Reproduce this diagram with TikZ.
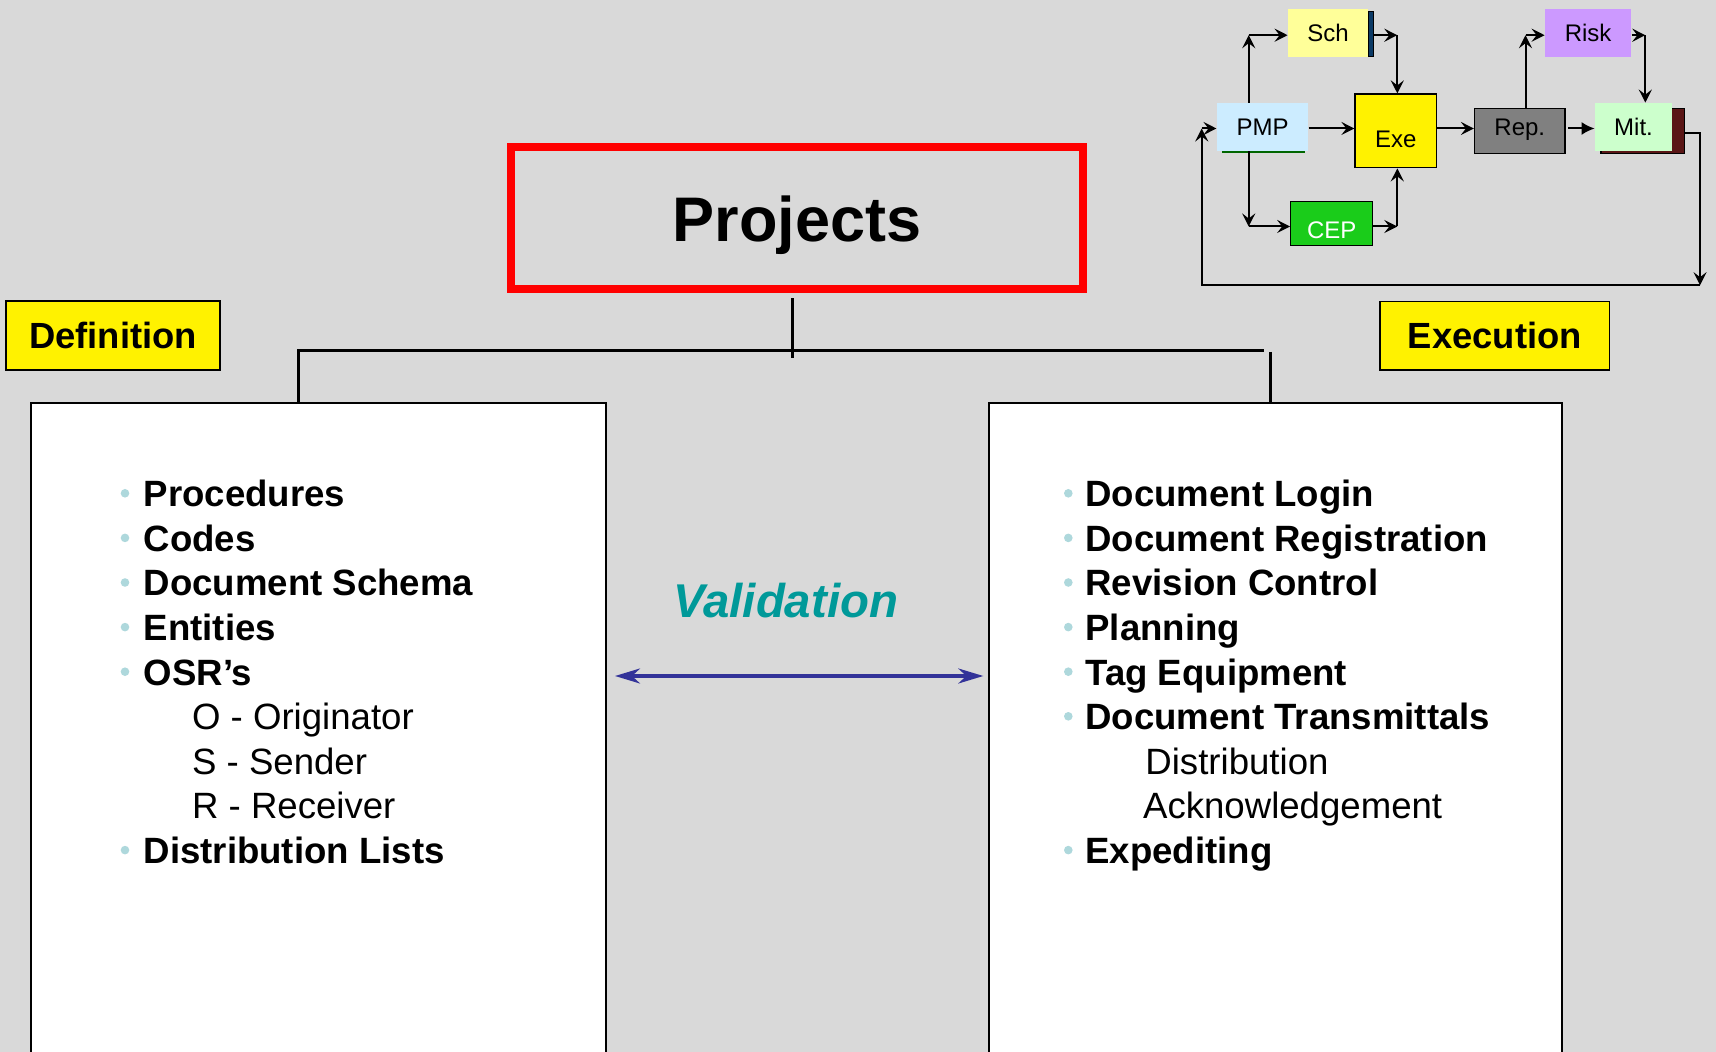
\documentclass[tikz,border=0pt]{standalone}
\usepackage{fontspec}
\setmainfont{Liberation Sans}
\usetikzlibrary{arrows.meta}
\definecolor{bg}{HTML}{D9D9D9}
\definecolor{bul}{HTML}{AED8DC}
\definecolor{teal2}{HTML}{009999}
\definecolor{navy2}{HTML}{333399}
\definecolor{schc}{HTML}{FFFF99}
\definecolor{pmpc}{HTML}{CCECFF}
\definecolor{cepc}{HTML}{1ACC1A}
\definecolor{repc}{HTML}{808080}
\definecolor{riskc}{HTML}{CC99FF}
\definecolor{mitc}{HTML}{CCFFCC}
\definecolor{maroon2}{HTML}{5A1616}
\definecolor{barblue}{HTML}{0B3A66}
\definecolor{darkgreen2}{HTML}{006600}
\begin{document}
\begin{tikzpicture}[x=0.5pt,y=-0.5pt,
  tree/.style={line width=1.5pt},
  tagbox/.style={draw=black,line width=0.8pt,fill=yellow,inner sep=0pt,
    font=\fontsize{18.2}{22}\selectfont\bfseries,text height=13.0pt,text depth=0pt},
  mainitem/.style={anchor=base west,inner sep=0pt,font=\fontsize{18.3}{22}\selectfont\bfseries},
  subitem/.style={anchor=base west,inner sep=0pt,font=\fontsize{18.3}{22}\selectfont},
  bulletdot/.style={fill=bul},
  small/.style={inner sep=0pt,font=\fontsize{12}{14}\selectfont,text height=8.6pt,text depth=0pt},
  arr/.style={line width=1pt,-{Stealth[length=6.5pt,width=6.5pt,inset=2.5pt]}},
  seg/.style={line width=1pt}
]
\useasboundingbox (0,0) rectangle (1716,1052);
\clip (0,0) rectangle (1716,1052);
\fill[bg] (0,0) rectangle (1716,1052);

% ---------- Projects ----------
\node[draw=red,line width=4pt,minimum width=286pt,minimum height=71pt,inner sep=0pt,
  font=\fontsize{31.5}{38}\selectfont\bfseries,text height=22.55pt,text depth=0pt]
  (proj) at (797,218.5) {Projects};

% ---------- tags ----------
\node[tagbox,minimum width=107pt,minimum height=34.5pt] (def) at (113,335.5) {Definition};
\node[tagbox,minimum width=114.8pt,minimum height=34.2pt] (exec) at (1494.8,335.8) {Execution};

% ---------- white boxes ----------
\node[draw=black,line width=1pt,fill=white,minimum width=287.75pt,minimum height=330pt,inner sep=0pt,anchor=north west] (lbox) at (29.5,401.7) {};
\node[draw=black,line width=1pt,fill=white,minimum width=286.25pt,minimum height=330pt,inner sep=0pt,anchor=north west] (rbox) at (988,401.7) {};

% ---------- tree connectors ----------
\coordinate (ptop) at (792.5,298.3);
\coordinate (pbot) at (792.5,358.3);
\coordinate (hl) at (298.5,351);
\coordinate (hr) at (1264,351);
\coordinate (rtop) at (1270,352);
\draw[tree] (ptop) -- (pbot);
\draw[tree] (lbox.north -| hl) -- (hl) -- (hr);
\draw[tree] (rtop) -- (rbox.north -| rtop);

% ---------- left list ----------
\node[mainitem] (l1) at (143.3,506.7) {Procedures};
\node[mainitem] (l2) at (143.3,551.3) {Codes};
\node[mainitem] (l3) at (143.3,595.9) {Document Schema};
\node[mainitem] (l4) at (143.3,640.5) {Entities};
\node[mainitem] (l5) at (143.3,685.1) {OSR’s};
\node[subitem]  (l6) at (191.7,729.7) {O - Originator};
\node[subitem]  (l7) at (191.7,774.3) {S - Sender};
\node[subitem]  (l8) at (191.7,818.9) {R - Receiver};
\node[mainitem] (l9) at (143.3,863.5) {Distribution Lists};
\foreach \y in {506.7,551.3,595.9,640.5,685.1,863.5}
  \fill[bulletdot] (125,\y-13.4) circle (2.15pt);

% ---------- right list ----------
\node[mainitem] (r1) at (1085,506.7) {Document Login};
\node[mainitem] (r2) at (1085,551.3) {Document Registration};
\node[mainitem] (r3) at (1085,595.9) {Revision Control};
\node[mainitem] (r4) at (1085,640.5) {Planning};
\node[mainitem] (r5) at (1085,685.1) {Tag Equipment};
\node[mainitem] (r6) at (1085,729.7) {Document Transmittals};
\node[subitem]  (r7) at (1145,774.3) {Distribution};
\node[subitem]  (r8) at (1142.7,818.9) {Acknowledgement};
\node[mainitem] (r9) at (1085,863.5) {Expediting};
\foreach \y in {506.7,551.3,595.9,640.5,685.1,729.7,863.5}
  \fill[bulletdot] (1068.3,\y-13.4) circle (2.15pt);

% ---------- validation ----------
\node[anchor=base,inner sep=0pt,text=teal2,font=\fontsize{23.7}{28}\selectfont\bfseries\itshape]
  (val) at (785.8,617.3) {Validation};
\coordinate (vl) at (615,676);
\coordinate (vr) at (983.3,676);
\draw[navy2,line width=1.65pt,{Stealth[length=12.5pt,width=7.5pt,inset=4pt]}-{Stealth[length=12.5pt,width=7.5pt,inset=4pt]}] (vl) -- (vr);

% ---------- small flow diagram ----------
\fill[barblue,draw=black,line width=0.3pt] (1367.8,11.1) rectangle (1372.8,56);
\node[small,fill=schc,minimum width=40pt,minimum height=23.8pt] (sch) at (1328,33.2) {Sch};
\fill[darkgreen2] (1221.9,108) rectangle (1305.1,153.3);
\node[small,fill=pmpc,minimum width=45.65pt,minimum height=24pt] (pmp) at (1262.5,127) {PMP};
\node[small,draw=black,line width=0.6pt,fill=yellow,minimum width=40.8pt,minimum height=36.9pt,text height=16.9pt] (exe) at (1395.8,130.9) {Exe};
\node[small,draw=black,line width=0.6pt,fill=cepc,text=white,minimum width=41pt,minimum height=22.15pt,text height=14.6pt] (cep) at (1331.75,223.45) {CEP};
\node[small,draw=black,line width=0.6pt,fill=repc,minimum width=45.25pt,minimum height=22.45pt,text depth=4pt] (rep) at (1519.75,130.85) {Rep.};
\node[small,fill=riskc,minimum width=43.1pt,minimum height=23.8pt] (risk) at (1588.1,33.2) {Risk};
\filldraw[fill=maroon2,draw=black,line width=0.6pt] (1601,108.4) rectangle (1684.2,153.3);
\node[small,fill=mitc,minimum width=38.5pt,minimum height=24pt] (mit) at (1633.5,127) {Mit.};

\coordinate (c1) at (1248.7,35.2);
\coordinate (c2) at (1397.3,35.2);
\coordinate (c3) at (1248.7,226.5);
\coordinate (c4) at (1397.3,226.5);
\coordinate (c5) at (1525.5,35.2);
\coordinate (c6) at (1645.3,35.2);
\coordinate (c7) at (1700,133.2);
\coordinate (c8) at (1700,285.2);
\coordinate (c9) at (1201.7,285.2);
\coordinate (c10) at (1201.7,128.5);
\coordinate (mitr) at (1684.2,133.2);
\coordinate (repr) at (1568.4,128.5);
\coordinate (schr) at (1372.8,35.2);

\draw[arr] (pmp.north -| c1) -- (c1);
\draw[arr] (c1) -- (sch.west |- c1);
\draw[arr] (schr) -- (c2);
\draw[arr] (c2) -- (exe.north -| c2);
\draw[arr] (pmp.east |- c10) -- (exe.west |- c10);
\draw[arr] (pmp.south -| c3) -- (c3);
\draw[arr] (c3) -- (cep.west |- c3);
\draw[arr] (cep.east |- c4) -- (c4);
\draw[arr] (c4) -- (exe.south -| c4);
\draw[arr] (exe.east |- c10) -- (rep.west |- c10);
\draw[arr] (rep.north -| c5) -- (c5);
\draw[arr] (c5) -- (risk.west |- c5);
\draw[arr] (risk.east |- c6) -- (c6);
\draw[arr] (c6) -- (mit.north -| c6);
\draw[line width=1pt,-{Latex[length=6.5pt,width=6.5pt]}] (repr) -- (mit.west |- repr);
\draw[line width=1.1pt,-{Stealth[length=6.5pt,width=6.5pt,inset=2.5pt]}] (mitr) -- (c7) -- (c8);
\draw[line width=1.1pt,-{Stealth[length=6.5pt,width=6.5pt,inset=2.5pt]}] (c8) -- (c9) -- (c10);
\draw[arr] (c10) -- (pmp.west |- c10);
\end{tikzpicture}
\end{document}
